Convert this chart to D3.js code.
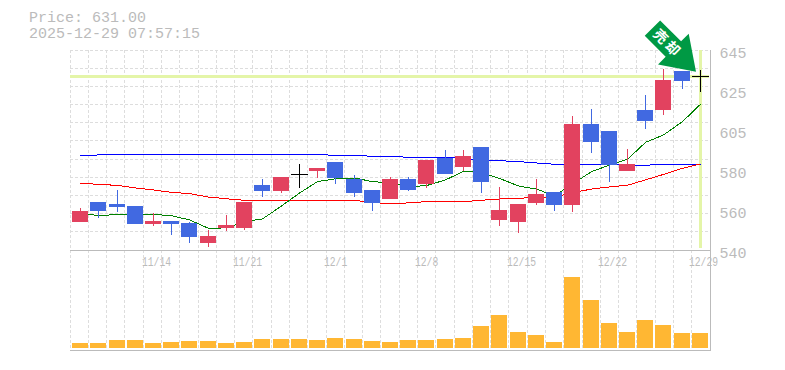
<!DOCTYPE html>
<html><head><meta charset="utf-8">
<script src="https://cdn.jsdelivr.net/npm/d3@7/dist/d3.min.js"></script>
<style>html,body{margin:0;padding:0;background:#fff}svg{display:block}text{font-family:"Liberation Mono",monospace;fill:#bbb}</style>
</head><body><svg id="c" width="785" height="370"></svg>
<script>
const dates=["11/10","11/11","11/12","11/13","11/14","11/17","11/18","11/19","11/20","11/21","11/25","11/26","11/27","11/28","12/1","12/2","12/3","12/4","12/5","12/8","12/9","12/10","12/11","12/12","12/15","12/16","12/17","12/18","12/19","12/22","12/23","12/24","12/25","12/26","12/29"];
const open=[554.7,565.2,564.2,563.1,553.7,555.2,554.2,543.7,551.6,551.6,574.1,571,579.4,581.5,586.2,577.3,571.5,566.8,577.3,574.7,588.3,583.6,594,555.8,554.7,564.7,570.5,563.6,606.2,602.5,581.5,613.5,613.5,634,631];
const high=[562,565.2,571.5,563.1,559.4,555.2,554.7,550.5,558.4,565.2,577.3,578.3,585.2,583,586.2,579.4,571.5,578.3,578.3,587.3,592.5,592.5,594,573.1,564.2,577.3,570.5,610.4,614,602.5,593,621.4,635,634,634.5];
const low=[554.7,556.8,560,553.7,552.6,547.9,543.7,541.6,550,550.5,567.8,569.9,572.6,577.8,574.7,567.8,560.5,566.8,571,572.6,579.9,581.5,569.9,552.6,548.9,563.6,560.5,560,590.9,575.7,581.5,603.5,610.9,624.5,623];
const close=[560.5,560.5,562.6,553.7,555.2,553.7,546.8,547.4,553.1,565.2,571,578.3,579.4,583,577.8,569.9,564.7,577.3,571.5,587.3,579.9,589.4,575.7,561,564.2,569.4,563.6,606.2,596.7,584.6,585.2,607.7,629.3,628.7,631];
const maLong=[589.4,589.9,590.1,590.1,590.1,590.1,590.1,590.1,590.1,590.1,590.1,590.1,590.1,590.1,589.7,589.7,589.2,589.1,588.7,588.7,588.7,588.1,587.3,586.9,586.4,585.7,585,585,585,585,584.5,584.5,585,585,585];
const maMid=[575,574.5,573.9,572.6,571.5,570.3,569.6,567.8,566.9,566.1,566.1,566.1,566.1,566.1,566.1,566.1,564.8,564.5,564.7,565.4,565.4,565.4,566.1,566.8,567.1,567.8,567.8,570.1,572,573.1,574,576.8,579.7,582.9,585.2];
const maShort=[559.4,558,558.7,558.7,558.7,558,555.8,551.4,551.6,554.9,556.3,563.1,569.9,575.9,577.4,577.8,575.9,575.2,573.2,573.8,576.8,581.3,580.6,577.6,573.6,572,568.4,574.7,581.1,584.6,587.6,596.5,600.4,607.4,616.5];
const volume=[5,5,8,8,5,6,7,7,5,6,9,9,9,8,10,9,7,6,8,8,9,10,22,33,16,13,6,71,48,25,16,28,23,15,15];
const priceTicks=[645,624,603,582,561,540];
const dateTicks=["11/14","11/21","12/1","12/8","12/15","12/22","12/29"];
const lastPrice=631;
const titleLines=["Price: 631.00","2025-12-29 07:57:15"];
const arrowLabel="売却";

const W=[70,710],PT=50,PB=250,VB=350,VBars=348;
const svg=d3.select("#c");
const x=d3.scaleBand().domain(dates).range([71,709]);
const y=d3.scaleLinear().domain([540,645]).range([PB,PT]);
const v=d3.scaleLinear().domain([0,100]).range([VBars,VBars-100]);
const gx=d3.scaleLinear().domain([0,35]).range(W);
const gy=d3.scaleLinear().domain([0,11]).range([PB,PT]);
const cx=d=>Math.round(x(d)+x.bandwidth()/2);
const UP="#e2425f",DOWN="#4169e1",GRID="#ddd",AXIS="#bbb",PALE="#e4f5a8";
const px=n=>Math.floor(n)+.5;

const grid=svg.append("g").attr("stroke",GRID).attr("stroke-dasharray","3,2").attr("shape-rendering","crispEdges");
grid.selectAll(".gv").data(d3.range(0,35)).join("line").attr("x1",d=>px(gx(d))).attr("x2",d=>px(gx(d))).attr("y1",PT).attr("y2",VB);
grid.selectAll(".gh").data(d3.range(1,12)).join("line").attr("x1",W[0]).attr("x2",W[1]).attr("y1",d=>px(gy(d))).attr("y2",d=>px(gy(d)));

const ax=svg.append("g").attr("stroke",AXIS).attr("shape-rendering","crispEdges");
ax.append("line").attr("x1",W[0]).attr("x2",W[1]+1).attr("y1",PB+.5).attr("y2",PB+.5);
ax.append("line").attr("x1",W[0]).attr("x2",W[1]+1).attr("y1",VB+.5).attr("y2",VB+.5);
ax.append("line").attr("x1",W[1]+.5).attr("x2",W[1]+.5).attr("y1",PT).attr("y2",VB+1);

svg.append("rect").attr("x",W[0]).attr("width",W[1]-W[0]-1).attr("y",Math.floor(y(lastPrice))-1).attr("height",3).attr("fill",PALE);
svg.append("rect").attr("x",cx(dates[34])-1).attr("width",3).attr("y",PT).attr("height",PB-PT-2).attr("fill",PALE);

[[maLong,"#0000ff"],[maMid,"#ff0000"],[maShort,"#008000"]].forEach(([s,c])=>{
  svg.append("path").datum(s).attr("fill","none").attr("stroke",c).attr("stroke-width",1)
    .attr("shape-rendering","crispEdges")
    .attr("d",d3.line().x((d,i)=>cx(dates[i])+.5).y(d=>y(d)));
});

const color=i=>close[i]>open[i]?UP:close[i]<open[i]?DOWN:"#000";
const candles=svg.append("g").attr("shape-rendering","crispEdges");
dates.forEach((d,i)=>{
  candles.append("line").attr("x1",cx(d)+.5).attr("x2",cx(d)+.5).attr("y1",Math.round(y(high[i]))).attr("y2",Math.round(y(low[i]))).attr("stroke",color(i));
  if(open[i]===close[i]){
    const dy=Math.floor(y(open[i]))+.5;
    candles.append("line").attr("x1",cx(d)-8).attr("x2",cx(d)+9).attr("y1",dy).attr("y2",dy).attr("stroke","#000");
  }else{
    const t=Math.round(y(Math.max(open[i],close[i]))),b=Math.round(y(Math.min(open[i],close[i])));
    candles.append("rect").attr("x",cx(d)-8).attr("width",16).attr("y",t).attr("height",b-t).attr("fill",color(i));
  }
});

svg.append("g").attr("shape-rendering","crispEdges").selectAll("rect").data(volume).join("rect")
  .attr("x",(d,i)=>cx(dates[i])-8).attr("width",16).attr("y",d=>v(d)).attr("height",d=>VBars-v(d)).attr("fill","#ffb733");

svg.append("g").selectAll("text").data(titleLines).join("text").attr("x",29).attr("y",(d,i)=>22+i*16).attr("font-size",14)
  .attr("textLength",d=>d.length*9).attr("lengthAdjust","spacingAndGlyphs").text(d=>d);
svg.append("g").selectAll("text").data(priceTicks).join("text").attr("x",719.5).attr("y",d=>y(d)+8).attr("font-size",15)
  .text(d=>Math.round(d/5)*5);
svg.append("g").selectAll("text").data(dateTicks).join("text").attr("x",d=>cx(d)-11).attr("y",266).attr("font-size",12)
  .attr("textLength",d=>d.length*5.8).attr("lengthAdjust","spacingAndGlyphs").text(d=>d);

const tip=[696,71.7];
const arrow=svg.append("g").attr("transform",`translate(${tip[0]},${tip[1]}) rotate(45)`);
arrow.append("polygon").attr("fill","#009944").attr("points",[[0,0],[-32,-21.7],[-32,-10.9],[-61.6,-10.9],[-61.6,10.9],[-32,10.9],[-32,21.7]].map(p=>p.join(",")).join(" "));
arrow.append("text").attr("x",-40).attr("y",5).attr("text-anchor","middle").attr("font-size",14).attr("font-weight","bold").attr("letter-spacing",3)
  .style("font-family",'"Noto Sans CJK JP"').style("fill","#fff").text(arrowLabel);
</script></body></html>
